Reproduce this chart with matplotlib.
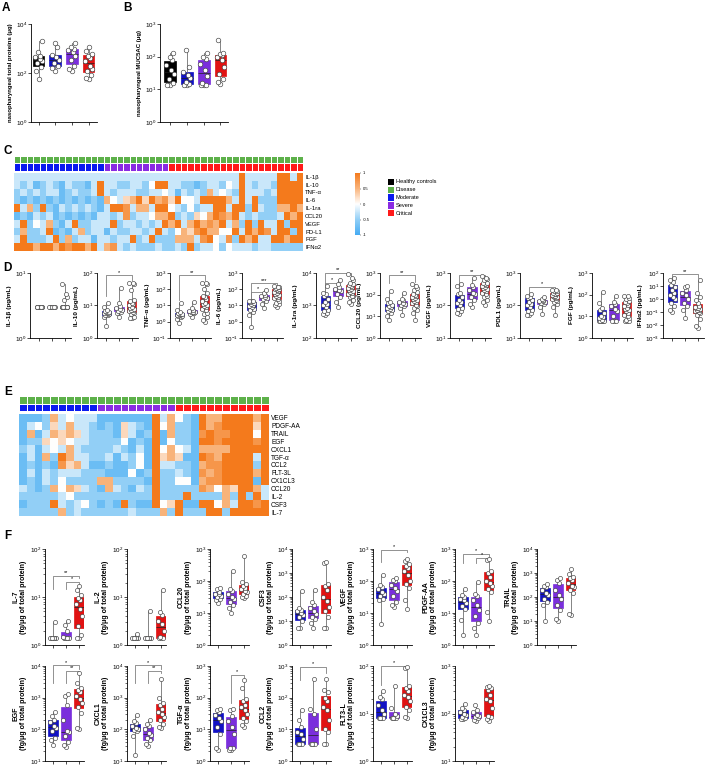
import numpy as np
import matplotlib
matplotlib.use('Agg')
import matplotlib.pyplot as plt
from matplotlib.colors import LinearSegmentedColormap, ListedColormap
from matplotlib.patches import Rectangle
from matplotlib.ticker import FixedLocator, LogLocator, NullFormatter, NullLocator

plt.rcParams['font.family'] = ['Liberation Sans', 'DejaVu Sans']
plt.rcParams['mathtext.fontset'] = 'custom'
plt.rcParams['mathtext.rm'] = 'Liberation Sans'
plt.rcParams['axes.linewidth'] = 0.6

# ---------------- data ----------------
a_groups = ['Healthy controls', 'Moderate', 'Severe', 'Critical']
a_total_protein = [[56, 120, 180, 250, 300, 380, 450, 500, 750, 1950],
                   [120, 160, 200, 260, 350, 450, 550, 1100, 1600],
                   [120, 150, 200, 350, 500, 700, 900, 1000, 1200, 1700],
                   [56, 60, 80, 120, 150, 200, 300, 400, 500, 600, 800, 1100]]
b_muc5ac = [[13.5, 14, 16, 20, 30, 40, 55, 80, 100, 126],
            [13.5, 14, 15, 17, 22, 28, 35, 50, 160],
            [13.5, 14, 14, 16, 25, 40, 60, 85, 100, 130],
            [15, 17, 20, 30, 50, 80, 100, 110, 120, 130, 320]]

c_labels = ['IL-1β', 'IL-10', 'TNF-α', 'IL-6', 'IL-1ra', 'CCL20', 'VEGF', 'PD-L1', 'FGF', 'IFNα2']
c_groups = ['Moderate'] * 14 + ['Severe'] * 10 + ['Critical'] * 21
# z-score levels 0..8  ->  -1 .. 1
c_rows = ["33333 33333 33333 33333 33333 33333 33333 83333 38838",
          "32312 32132 21383 32233 24883 32212 33243 83233 28888",
          "23232 33123 22383 23332 23343 13232 63432 83332 38888",
          "21212 12121 21216 43568 58675 84438 88863 83822 28888",
          "83628 21323 23213 88736 63884 32423 38838 82832 26686",
          "12132 31212 12133 23723 34668 23254 68768 32322 23868",
          "38243 62138 22333 82332 32386 83686 76836 28283 38288",
          "26223 81213 62331 32233 23832 46578 66448 38687 38828",
          "38222 38262 33133 23382 38222 66637 84372 86833 88688",
          "88868 86878 86836 73232 22322 32823 34243 33233 22222"]

d_labels = ['IL-1β (pg/mL)', 'IL-10 (pg/mL)', 'TNF-α (pg/mL)', 'IL-6 (pg/mL)', 'IL-1ra (pg/mL)',
            'CCL20 (pg/mL)', 'VEGF (pg/mL)', 'PDL1 (pg/mL)', 'FGF (pg/mL)', 'IFNα2 (pg/mL)']
d_ylims = [(1, 10), (1, 100), (0.1, 1000), (0.1, 1000), (100, 1e4),
           (1, 1000), (10, 1000), (10, 1000), (1, 1000), (0.001, 100)]
d_il1b = [[3] * 14, [3] * 10, [3] * 17 + [3.8, 4.3, 4.8, 6.8]]
d_il10 = [[2.4, 4.5, 5, 5.2, 5.5, 5.8, 6, 6, 6.2, 6.5, 7, 7.5, 9, 12],
          [4.5, 6, 6.5, 7, 7.5, 8, 8.5, 9.5, 12, 35],
          [4, 4.2, 4.5, 5.5, 6, 6.5, 7, 7.2, 7.5, 8, 8.5, 9, 10, 11, 12, 14, 15, 30, 45, 48, 48]]
d_tnfa = [[0.8, 1.5, 2, 2.2, 2.4, 2.5, 2.6, 2.8, 3, 3.2, 3.5, 4, 5, 14],
          [2, 3, 3.3, 3.8, 4, 4.2, 4.8, 5.5, 7, 16],
          [1, 1.3, 2, 3, 3.5, 5, 6, 8, 9, 10, 12, 15, 20, 25, 35, 40, 60, 100, 200, 250, 250]]
d_il6 = [[0.45, 2.5, 4, 5, 6, 8, 9, 10, 12, 14, 16, 18, 19, 20],
         [7, 12, 20, 25, 30, 35, 40, 45, 55, 90],
         [8, 10, 12, 15, 20, 25, 30, 35, 40, 45, 50, 60, 70, 80, 90, 100, 110, 120, 130, 140, 150]]
d_il1ra = [[500, 550, 600, 700, 750, 900, 1000, 1100, 1300, 1600, 2000, 2300, 2500, 4000],
           [900, 1300, 1800, 2200, 2700, 3000, 3300, 3600, 4500, 6000],
           [1100, 1300, 1500, 1800, 1900, 2000, 2200, 2400, 2600, 2800, 3000, 3200, 3500, 3800,
            4000, 4300, 4500, 5000, 6000, 7000, 9000]]
d_ccl20 = [[7, 10, 15, 18, 20, 22, 25, 28, 30, 35, 40, 45, 60, 150],
           [12, 25, 30, 35, 38, 42, 48, 55, 60, 120],
           [7, 15, 20, 25, 30, 35, 40, 45, 50, 55, 60, 70, 80, 90, 100, 110, 130, 160, 200, 250, 300]]
d_vegf = [[55, 60, 70, 80, 85, 100, 120, 130, 150, 180, 220, 250, 400, 450],
          [90, 110, 150, 180, 220, 240, 300, 380, 420, 700],
          [100, 130, 150, 180, 200, 220, 250, 280, 300, 320, 340, 360, 400, 420, 450, 480, 500,
           600, 650, 700, 800]]
d_pdl1 = [[50, 50, 60, 70, 75, 90, 100, 110, 130, 150, 170, 180, 200, 230],
          [55, 90, 110, 120, 130, 135, 140, 150, 160, 180],
          [50, 90, 110, 130, 140, 150, 160, 170, 180, 180, 190, 200, 210, 220, 230, 240, 250, 270,
           280, 300, 300]]
d_fgf = [[6, 6, 6, 6, 6, 7, 8, 9, 10, 15, 20, 25, 40, 130],
         [6, 6, 6, 10, 18, 22, 30, 38, 45, 85],
         [6, 6, 6, 7, 8, 10, 12, 15, 18, 20, 22, 25, 30, 35, 40, 45, 50, 60, 70, 85, 90]]
d_ifna2 = [[0.1, 0.15, 0.3, 0.5, 1, 1.5, 2, 3, 5, 8, 12, 20, 30, 40],
           [0.035, 0.15, 0.3, 0.5, 1, 2, 3, 5, 8, 10],
           [0.006, 0.008, 0.03, 0.06, 0.08, 0.1, 0.12, 0.14, 0.15, 0.17, 0.2, 0.22, 0.25, 0.3,
            0.5, 0.8, 1.5, 3, 30]]
# brackets: (group a, group b, top, left drop, right drop, stars)
d_sig = [[], [(1, 3, 85, 19, 60, '*')], [(1, 3, 750, 22, 370, '**')],
         [(1, 3, 240, 25, 170, '***'), (1, 2, 70, 22, 45, '*')],
         [(1, 3, 1e4, 4500, 9000, '**'), (1, 2, 4900, 2800, 4000, '*')],
         [(1, 3, 800, 340, 380, '**')], [(1, 3, 870, 370, 700, '**')],
         [(1, 3, 370, 180, 240, '*')], [], [(1, 3, 80, 40, 40, '**')]]

e_labels = ['VEGF', 'PDGF-AA', 'TRAIL', 'EGF', 'CXCL1', 'TGF-α', 'CCL2', 'FLT-3L', 'CX1CL3',
            'CCL20', 'IL-2', 'CSF3', 'IL-7']
e_groups = ['Moderate'] * 10 + ['Severe'] * 10 + ['Critical'] * 12
e_rows = ["1112 6343 3311 1111 1836 4218 6688 8868",
          "1342 5363 3212 1532 1846 2218 6788 8858",
          "1613 6565 3222 1531 2816 2217 8778 8848",
          "1225 4543 3222 2412 1814 2218 8788 8878",
          "2313 4363 2222 3213 1846 4316 6668 8888",
          "1316 2863 3223 1324 1856 5118 7688 8838",
          "1212 1756 3112 1124 1833 2216 7788 8828",
          "1313 2333 2221 1141 2822 3217 6788 8868",
          "1213 2422 2266 2222 1822 4416 7788 8818",
          "3212 6465 3216 3213 2822 2227 6465 8863",
          "2222 2342 2222 2222 2822 2822 2262 8283",
          "1222 8323 4212 1821 1845 8118 8463 8878",
          "2222 2623 2222 2232 2262 8222 8828 8888"]

f_labels = ['IL-7', 'IL-2', 'CCL20', 'CSF3', 'VEGF', 'PDGF-AA', 'TRAIL',
            'EGF', 'CXCL1', 'TGF-α', 'CCL2', 'FLT3-L', 'CX1CL3']
f_ylims = [(1, 100), (1, 100), (1, 1000), (1, 1e4), (1, 1000), (1, 1000), (1, 1e4),
           (10, 1e4), (10, 1e4), (1, 1000), (1, 1000), (1, 100), (10, 1000)]
f_il7 = [[1.4] * 9 + [3.0], [1.4] * 6 + [1.5, 2.0, 2.6, 3.2],
         [1.4, 1.4, 1.6, 2.5, 4, 5.5, 7, 8.5, 9.5, 11, 14, 17]]
f_il2 = [[1.4] * 9 + [1.7], [1.4] * 9 + [5.2], [1.4, 1.4, 1.4, 1.5, 2, 2.7, 3.2, 4.2, 4.8, 14]]
f_ccl20 = [[20, 25, 28, 32, 35, 38, 40, 45, 55, 60], [10, 14, 18, 22, 28, 32, 40, 50, 55, 200],
           [30, 32, 35, 40, 45, 50, 55, 60, 70, 80, 90, 600]]
f_csf3 = [[5, 5, 10, 15, 18, 22, 25, 30, 35, 180], [5, 8, 12, 15, 20, 25, 35, 45, 60, 200],
          [5, 5, 15, 25, 40, 70, 100, 200, 300, 350, 2500, 2800]]
f_vegf = [[4.5, 25, 28, 35, 40, 45, 55, 65, 75, 150], [15, 18, 22, 35, 50, 60, 75, 100, 110, 120],
          [13, 25, 60, 80, 100, 150, 200, 250, 300, 350, 420, 500]]
f_pdgfaa = [[2, 6, 13, 16, 20, 25, 28, 32, 36, 55], [2, 3.5, 5, 8, 12, 18, 25, 35, 40, 90],
            [5.5, 11, 45, 55, 70, 85, 100, 130, 180, 210, 450, 500]]
f_trail = [[10, 45, 60, 80, 120, 150, 200, 250, 300, 350], [10, 12, 30, 45, 80, 120, 200, 400, 500, 600],
           [18, 20, 150, 200, 250, 300, 400, 500, 600, 700, 900, 1500]]
f_egf = [[33, 45, 55, 90, 110, 130, 170, 200, 260, 350], [28, 32, 40, 60, 80, 90, 200, 600, 1100, 1300],
         [100, 110, 330, 500, 700, 900, 1100, 1500, 1800, 2000, 3000, 6000]]
f_cxcl1 = [[16, 60, 90, 95, 100, 110, 130, 160, 180, 280], [30, 35, 45, 55, 65, 75, 100, 130, 150, 200],
           [110, 120, 150, 200, 250, 300, 350, 450, 600, 700, 1000, 4000]]
f_tgfa = [[2.3, 2.5, 7, 12, 18, 22, 28, 35, 42, 45], [2.3, 2.3, 2.5, 2.5, 7, 12, 18, 27, 40, 45],
          [12, 14, 18, 22, 30, 40, 50, 60, 80, 90, 200, 350]]
f_ccl2 = [[3.5, 3.5, 3.5, 3.5, 5, 7, 8, 12, 20, 40], [3.5, 3.5, 3.5, 3.5, 10, 30, 45, 400],
          [3.5, 3.5, 8, 10, 20, 40, 50, 80, 100, 150, 180, 400]]
f_flt3l = [[8, 8, 8, 8, 10, 12, 15, 20, 22, 30], [8, 8, 8, 8, 9, 10, 13, 38],
           [8, 8.5, 12, 14, 18, 22, 25, 30, 35, 38, 90, 95]]
f_cx1cl3 = [[75, 78, 80, 85, 95, 100, 110, 120, 130, 160], [70, 72, 80, 85, 90, 95, 110, 120, 150],
            [70, 75, 85, 90, 130, 180, 200, 250, 320, 350, 370, 380]]
f_sig = [[(1, 3, 28, 15, 25, '**'), (2, 3, 21, 15, 18, '*')], [], [], [],
         [(1, 3, 930, 400, 800, '*')],
         [(1, 3, 700, 360, 560, '*'), (2, 3, 520, 360, 450, '*')], [],
         [(1, 3, 1.05e4, 3000, 8000, '*'), (2, 3, 7000, 3000, 6500, '**')],
         [(1, 3, 1.05e4, 3000, 8000, '*'), (2, 3, 7000, 3000, 6000, '**')],
         [(2, 3, 520, 70, 420, '*')], [(1, 3, 930, 360, 600, '*')],
         [(1, 3, 100, 40, 95, '*')], []]

# ---------------- helpers ----------------
W, H = 706, 767
fig = plt.figure(figsize=(W / 100, H / 100), dpi=100)

GROUP_COL = {'Healthy controls': '#000000', 'Moderate': '#1212c4', 'Severe': '#7a2fdc', 'Critical': '#e01313'}
ANN_COL = {'Healthy controls': '#000000', 'Disease': '#5db14a', 'Moderate': '#0a1af0',
           'Severe': '#8a2be2', 'Critical': '#ff1a1a'}
heat_cmap = LinearSegmentedColormap.from_list(
    'bwo', ['#45abf3', '#92cff6', '#ffffff', '#f9b47c', '#f47a1c'])
JIT = [0.0, -0.17, 0.15, -0.08, 0.21, 0.07, -0.22, 0.11, -0.03, 0.18, -0.13, 0.03, -0.19, 0.12]


def px_ax(l, t, r, b):
    return fig.add_axes([l / W, 1 - b / H, (r - l) / W, (b - t) / H])


def boxes(ax, groups, colors, width=0.75, ms=9):
    for i, (vals, col) in enumerate(zip(groups, colors)):
        pos = i + 1
        ax.boxplot(vals, positions=[pos], widths=width, whis=(0, 100), showfliers=False,
                   patch_artist=True, manage_ticks=False,
                   boxprops=dict(facecolor=col, edgecolor=col, linewidth=0.5),
                   medianprops=dict(color='#202020', linewidth=0.5),
                   whiskerprops=dict(color='#707070', linewidth=0.6),
                   capprops=dict(linewidth=0))
        v = sorted(vals)
        xs = [pos + JIT[k % len(JIT)] for k in range(len(v))]
        ax.scatter(xs, v, s=ms, facecolor='white', edgecolor='#404040', linewidths=0.45,
                   zorder=4, clip_on=False)


def style(ax, ylim, xlim, ylabel, ngroups=3, minor=False, fs=4.6, step=1):
    ax.set_yscale('log')
    ax.set_ylim(*ylim)
    ax.set_xlim(*xlim)
    lo, hi = np.log10(ylim[0]), np.log10(ylim[1])
    ax.yaxis.set_major_locator(FixedLocator(10.0 ** np.arange(lo, hi + 0.1, step)))
    if minor:
        ax.yaxis.set_minor_locator(LogLocator(base=10, subs=np.arange(2, 10), numticks=20))
    else:
        ax.yaxis.set_minor_locator(NullLocator())
    ax.yaxis.set_minor_formatter(NullFormatter())
    ax.set_xticks(range(1, ngroups + 1))
    ax.set_xticklabels([])
    for s in ('top', 'right'):
        ax.spines[s].set_visible(False)
    ax.tick_params(axis='both', which='major', labelsize=4.5, length=2, width=0.5, pad=1)
    ax.tick_params(axis='y', which='minor', length=1.2, width=0.4)
    ax.set_ylabel(ylabel, fontsize=fs, fontweight='bold', labelpad=1.5, linespacing=1.15)


def brackets(ax, sigs):
    for a, b, y, yl, yr, lab in sigs:
        ax.plot([a, a, b, b], [yl, y, y, yr], color='#808080', lw=0.6, clip_on=False)
        ax.text((a + b) / 2, y * 1.04, lab, ha='center', va='bottom', fontsize=4, clip_on=False)


def heatmap(rows, groups, labels, l, r, ann_t, t, b, fs):
    mat = np.array([[int(ch) for ch in row.replace(' ', '')] for row in rows]) / 4.0 - 1
    ax = px_ax(l, t, r, b)
    im = ax.imshow(mat, cmap=heat_cmap, vmin=-1, vmax=1, aspect='auto', interpolation='nearest')
    ax.set_xticks([])
    ax.set_yticks(range(len(labels)))
    ax.set_yticklabels(labels, fontsize=fs)
    ax.yaxis.tick_right()
    ax.tick_params(axis='y', length=0, pad=1.5)
    for s in ax.spines.values():
        s.set_visible(False)
    names = ['Disease', 'Moderate', 'Severe', 'Critical']
    codes = np.array([[0] * len(groups), [names.index(g) for g in groups]])
    ann = px_ax(l, ann_t, r, t - 2.5)
    ann.pcolormesh(codes, cmap=ListedColormap([ANN_COL[n] for n in names]), vmin=-0.5, vmax=3.5,
                   edgecolors='white', linewidth=0.5)
    ann.set_xlim(0, len(groups))
    ann.set_ylim(2, 0)
    ann.axis('off')
    return im


# overlay in pixel coordinates for letters / legend
ov = fig.add_axes([0, 0, 1, 1])
ov.set_xlim(0, W)
ov.set_ylim(H, 0)
ov.axis('off')
for letter, x, y in [('A', 2, 2), ('B', 123, 2), ('C', 4, 145), ('D', 3, 262), ('E', 4, 386), ('F', 4, 530)]:
    ov.text(x, y, letter, fontsize=8.5, fontweight='bold', va='top', ha='left')

# ---------------- A / B ----------------
cols4 = [GROUP_COL[g] for g in a_groups]
axA = px_ax(31, 24, 97, 122)
boxes(axA, a_total_protein, cols4, width=0.7, ms=11)
style(axA, (1, 1e4), (0.55, 4.5), 'nasopharyngeal total proteins (μg)', ngroups=4, fs=4.3, step=2)
axB = px_ax(160, 24, 228, 122)
boxes(axB, b_muc5ac, cols4, width=0.7, ms=11)
style(axB, (1, 1000), (0.4, 4.45), 'nasopharyngeal MUC5AC (μg)', ngroups=4, fs=4.3)

# ---------------- C ----------------
im = heatmap(c_rows, c_groups, c_labels, 14, 303, 156, 173, 251, 4.2)
cax = px_ax(355, 173, 360, 235)
cb = fig.colorbar(im, cax=cax, ticks=[-1, -0.5, 0, 0.5, 1])
cb.outline.set_visible(False)
cb.ax.set_yticklabels(['-1', '-0.5', '0', '0.5', '1'])
cb.ax.tick_params(labelsize=3, length=1, width=0.3, pad=1)
for k, name in enumerate(['Healthy controls', 'Disease', 'Moderate', 'Severe', 'Critical']):
    yc = 182 + 7.8 * k
    ov.add_patch(Rectangle((388, yc - 3.2), 6.4, 6.4, facecolor=ANN_COL[name], edgecolor='none'))
    ov.text(395.5, yc, name, fontsize=4.1, va='center', ha='left')

# ---------------- D ----------------
cols3 = [GROUP_COL[g] for g in ['Moderate', 'Severe', 'Critical']]
d_data = [d_il1b, d_il10, d_tnfa, d_il6, d_il1ra, d_ccl20, d_vegf, d_pdl1, d_fgf, d_ifna2]
d_x = [30, 97, 170, 242, 316, 380, 450, 520, 592, 663]
for k in range(10):
    ax = px_ax(d_x[k], 273, d_x[k] + 41, 338)
    boxes(ax, d_data[k], cols3)
    style(ax, d_ylims[k], (0.25, 3.5), d_labels[k])
    brackets(ax, d_sig[k])

# ---------------- E ----------------
heatmap(e_rows, e_groups, e_labels, 19, 269, 396, 414, 516, 4.7)

# ---------------- F ----------------
f_data = [f_il7, f_il2, f_ccl20, f_csf3, f_vegf, f_pdgfaa, f_trail,
          f_egf, f_cxcl1, f_tgfa, f_ccl2, f_flt3l, f_cx1cl3]
f_x = [45, 127, 210, 292, 373, 455, 537, 45, 127, 210, 292, 373, 455]
for k in range(13):
    t, b = (549, 645) if k < 7 else (666, 761)
    ax = px_ax(f_x[k], t, f_x[k] + 39, b)
    boxes(ax, f_data[k], cols3)
    style(ax, f_ylims[k], (0.4, 3.4), f_labels[k] + '\n(fg/μg of total protein)', minor=True, fs=5)
    brackets(ax, f_sig[k])

fig.savefig('out.png', dpi=100)
